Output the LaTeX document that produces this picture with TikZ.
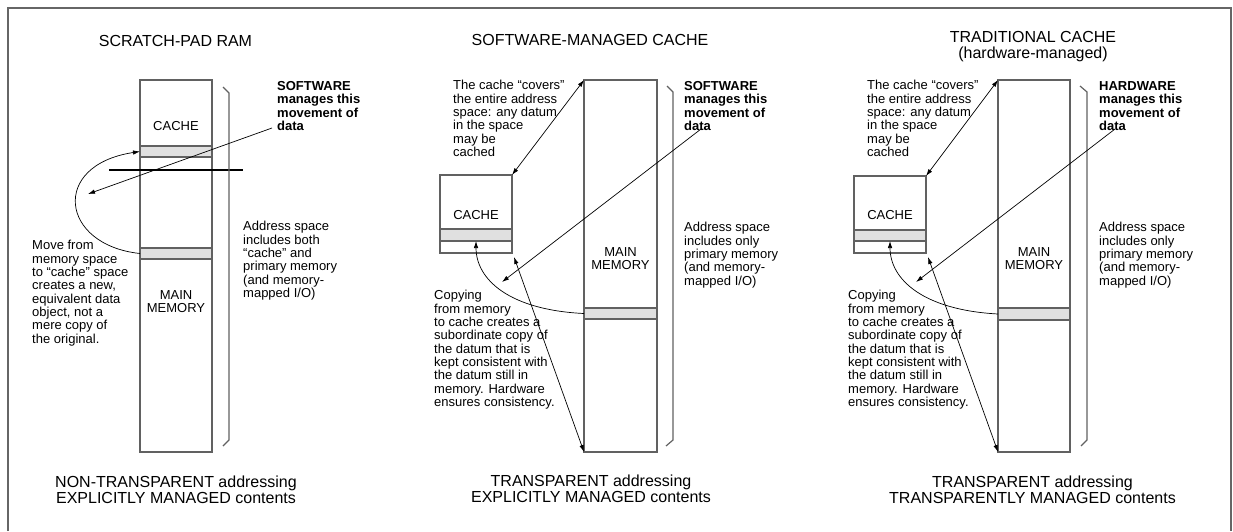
\documentclass[tikz,border=0pt]{standalone}
\usepackage{fontspec}
\setmainfont{Liberation Sans}
\usetikzlibrary{arrows.meta,calc}
\begin{document}
\begin{tikzpicture}[x=1pt,y=-1pt,
  col/.style={draw=black!62, line width=1.2pt, inner sep=0pt, outer sep=0pt, anchor=north west},
  band/.style={draw=black!62, fill=black!12, line width=1.2pt, inner sep=0pt, outer sep=0pt, anchor=north west},
  body/.style={font=\fontsize{13}{13.3}\selectfont, inner sep=0pt, align=left, anchor=north west},
  boldtxt/.style={font=\fontsize{13}{13.3}\selectfont\bfseries, inner sep=0pt, align=left, anchor=north west},
  big/.style={font=\fontsize{16}{16}\selectfont, inner sep=0pt, align=center},
  lbl/.style={font=\fontsize{13}{13}\selectfont, inner sep=0pt, align=center},
  conn/.style={line width=0.7pt, black},
  tip/.style={-{Latex[length=7pt,width=4.5pt]}},
  tips/.style={{Latex[length=7pt,width=4.5pt]}-{Latex[length=7pt,width=4.5pt]}},
  brk/.style={draw=black!62, line width=1.2pt},
  framel/.style={draw=black!60, line width=1.4pt}
]
\useasboundingbox (0,0) rectangle (1233,531);
% frame
\draw[framel] (8,531) -- (8,8) -- (1231,8) -- (1231,531);

%%%%%%%%%%%%%%%% Panel 1
\node[big] (t1) at (175.5,41) {SCRATCH-PAD RAM};
\node[col, minimum width=72pt, minimum height=372pt] (col1) at (140,80) {};
\node[band, minimum width=72pt, minimum height=11pt] (b1a) at (140,146) {};
\node[band, minimum width=72pt, minimum height=11pt] (b1b) at (140,248) {};
\draw[line width=1.6pt] (109,170) -- (243,170);
\node[lbl] (c1) at (176,126) {CACHE};
\node[lbl] (m1) at (176,301.5) {MAIN\\MEMORY};
\draw[brk] (223,87) -- (229,93) -- (229,440) -- (223,446);
\node[boldtxt] (s1) at (277,81.3) {SOFTWARE\\manages this\\movement of\\data};
\node[body] (ad1) at (243,221.3) {Address space\\includes both\\“cache” and\\primary memory\\(and memory-\\mapped I/O)};
\node[body] (mv1) at (32,240.3) {Move from\\memory space\\to “cache” space\\creates a new,\\equivalent data\\object, not a\\mere copy of\\the original.};
\coordinate (a1s) at (272,128);
\coordinate (a1e) at (88,194);
\draw[conn,tip] (a1s) -- (a1e);
\draw[conn,tip] (b1b.west) .. controls (60,245) and (50,165) .. (b1a.west);
\node[big] (bt1) at (176,489.5) {NON-TRANSPARENT addressing\\EXPLICITLY MANAGED contents};

%%%%%%%%%%%%%%%% Panel 2
\node[big] (t2) at (590,40) {SOFTWARE-MANAGED CACHE};
\node[col, minimum width=73pt, minimum height=372pt] (col2) at (584,80) {};
\node[band, minimum width=73pt, minimum height=11pt] (b2) at (584,308) {};
\node[col, minimum width=72pt, minimum height=78pt] (cache2) at (440,175) {};
\node[band, minimum width=72pt, minimum height=12pt] (cb2) at (440,229) {};
\node[lbl] (c2) at (476,215) {CACHE};
\node[lbl] (m2) at (620.5,258.5) {MAIN\\MEMORY};
\draw[brk] (667,86) -- (673,92) -- (673,440) -- (666,446);
\node[body] (cv2) at (453,80.3) {The cache “covers”\\the entire address\\space: any datum\\in the space\\may be\\cached};
\node[boldtxt] (s2) at (684,81.3) {SOFTWARE\\manages this\\movement of\\data};
\node[body] (ad2) at (684,222.3) {Address space\\includes only\\primary memory\\(and memory-\\mapped I/O)};
\node[body] (cp2) at (434,290.3) {Copying\\from memory\\to cache creates a\\subordinate copy of\\the datum that is\\kept consistent with\\the datum still in\\memory. Hardware\\ensures consistency.};
\draw[conn,tips] (cache2.north east) -- (col2.north west);
\coordinate (d2) at ($(cache2.south east)+(2,4)$);
\draw[conn,tips] (d2) -- (col2.south west);
\coordinate (a2s) at (701,129);
\coordinate (a2e) at (502,282);
\draw[conn,tip] (a2s) -- (a2e);
\draw[conn,tip] (b2.west) .. controls (510,310) and (476,280) .. (cb2.south);
\node[big] (bt2) at (591,489) {TRANSPARENT addressing\\EXPLICITLY MANAGED contents};

%%%%%%%%%%%%%%%% Panel 3
\node[big] (t3) at (1033,47) {TRADITIONAL CACHE\\(hardware-managed)};
\node[col, minimum width=72pt, minimum height=372pt] (col3) at (998,80) {};
\node[band, minimum width=72pt, minimum height=12pt] (b3) at (998,308) {};
\node[col, minimum width=72pt, minimum height=77pt] (cache3) at (854,176) {};
\node[band, minimum width=72pt, minimum height=11pt] (cb3) at (854,230) {};
\node[lbl] (c3) at (890,215) {CACHE};
\node[lbl] (m3) at (1034,258.5) {MAIN\\MEMORY};
\draw[brk] (1080,86) -- (1087,92) -- (1087,440) -- (1081,446);
\node[body] (cv3) at (867,80.3) {The cache “covers”\\the entire address\\space: any datum\\in the space\\may be\\cached};
\node[boldtxt] (s3) at (1099,81.3) {HARDWARE\\manages this\\movement of\\data};
\node[body] (ad3) at (1099,222.3) {Address space\\includes only\\primary memory\\(and memory-\\mapped I/O)};
\node[body] (cp3) at (848,290.3) {Copying\\from memory\\to cache creates a\\subordinate copy of\\the datum that is\\kept consistent with\\the datum still in\\memory. Hardware\\ensures consistency.};
\draw[conn,tips] (cache3.north east) -- (col3.north west);
\coordinate (d3) at ($(cache3.south east)+(2,4)$);
\draw[conn,tips] (d3) -- (col3.south west);
\coordinate (a3s) at (1115,129);
\coordinate (a3e) at (916,282);
\draw[conn,tip] (a3s) -- (a3e);
\draw[conn,tip] (b3.west) .. controls (924,310) and (890,280) .. (cb3.south);
\node[big] (bt3) at (1032.5,490) {TRANSPARENT addressing\\TRANSPARENTLY MANAGED contents};
\end{tikzpicture}
\end{document}
